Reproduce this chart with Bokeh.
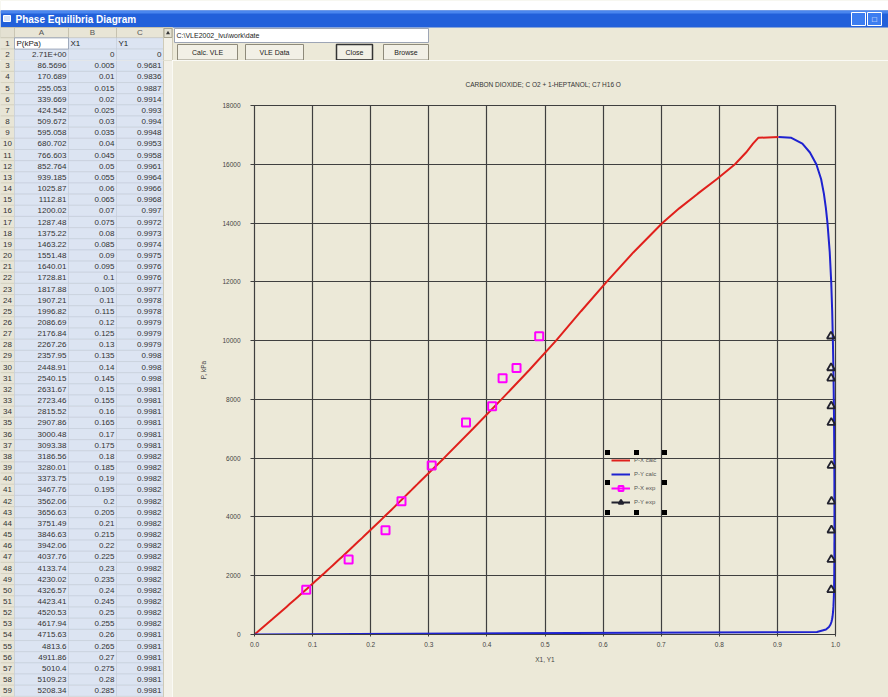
from bokeh.plotting import figure
from bokeh.models import Range1d, FixedTicker, Legend, LegendItem, BoxAnnotation, ColumnDataSource
from bokeh.layouts import row, column
from bokeh.core.properties import value
from bokeh.embed import file_html
from bokeh.resources import INLINE

# ---------------- data ----------------
# calculated VLE table (rows 2..59 of the sheet)
table_P = [2.71, 86.5696, 170.689, 255.053, 339.669, 424.542, 509.672, 595.058, 680.702, 766.603,
           852.764, 939.185, 1025.87, 1112.81, 1200.02, 1287.48, 1375.22, 1463.22, 1551.48, 1640.01,
           1728.81, 1817.88, 1907.21, 1996.82, 2086.69, 2176.84, 2267.26, 2357.95, 2448.91, 2540.15,
           2631.67, 2723.46, 2815.52, 2907.86, 3000.48, 3093.38, 3186.56, 3280.01, 3373.75, 3467.76,
           3562.06, 3656.63, 3751.49, 3846.63, 3942.06, 4037.76, 4133.74, 4230.02, 4326.57, 4423.41,
           4520.53, 4617.94, 4715.63, 4813.6, 4911.86, 5010.4, 5109.23, 5208.34]
table_X1 = [0, 0.005, 0.01, 0.015, 0.02, 0.025, 0.03, 0.035, 0.04, 0.045,
            0.05, 0.055, 0.06, 0.065, 0.07, 0.075, 0.08, 0.085, 0.09, 0.095,
            0.1, 0.105, 0.11, 0.115, 0.12, 0.125, 0.13, 0.135, 0.14, 0.145,
            0.15, 0.155, 0.16, 0.165, 0.17, 0.175, 0.18, 0.185, 0.19, 0.195,
            0.2, 0.205, 0.21, 0.215, 0.22, 0.225, 0.23, 0.235, 0.24, 0.245,
            0.25, 0.255, 0.26, 0.265, 0.27, 0.275, 0.28, 0.285]
table_Y1 = [0, 0.9681, 0.9836, 0.9887, 0.9914, 0.993, 0.994, 0.9948, 0.9953, 0.9958,
            0.9961, 0.9964, 0.9966, 0.9968, 0.997, 0.9972, 0.9973, 0.9974, 0.9975, 0.9976,
            0.9976, 0.9977, 0.9978, 0.9978, 0.9979, 0.9979, 0.9979, 0.998, 0.998, 0.998,
            0.9981, 0.9981, 0.9981, 0.9981, 0.9981, 0.9981, 0.9982, 0.9982, 0.9982, 0.9982,
            0.9982, 0.9982, 0.9982, 0.9982, 0.9982, 0.9982, 0.9982, 0.9982, 0.9982, 0.9982,
            0.9982, 0.9982, 0.9981, 0.9981, 0.9981, 0.9981, 0.9981, 0.9981]
table_header = ["P(kPa)", "X1", "Y1"]
col_letters = ["A", "B", "C"]

# remainder of the calculated curves
ext_P = [6000, 7000, 8000, 9000, 10000, 11000, 12000, 13000, 14000, 14500, 15000, 15500, 16000, 16400, 16700, 16900, 16930]
ext_X1 = [0.326, 0.376, 0.425, 0.473, 0.519, 0.562, 0.606, 0.652, 0.702, 0.731, 0.763, 0.796, 0.827, 0.846, 0.858, 0.867, 0.902]
ext_Y1 = [0.9979, 0.9976, 0.9971, 0.9964, 0.9955, 0.9943, 0.9926, 0.9901, 0.9862, 0.9835, 0.9800, 0.9752, 0.9670, 0.9560, 0.9430, 0.9240, 0.902]

# experimental points
exp_P = [1520, 2550, 3550, 4530, 5750, 7210, 7770, 8720, 9070, 10150]
exp_X1 = [0.089, 0.162, 0.2255, 0.253, 0.305, 0.364, 0.409, 0.427, 0.451, 0.490]
exp_Y1 = [0.9926, 0.9928, 0.9930, 0.9931, 0.9930, 0.9928, 0.9927, 0.9925, 0.9924, 0.9922]

x_ticks = [0.0, 0.1, 0.2, 0.3, 0.4, 0.5, 0.6, 0.7, 0.8, 0.9, 1.0]
x_tick_labels = ["0.0", "0.1", "0.2", "0.3", "0.4", "0.5", "0.6", "0.7", "0.8", "0.9", "1.0"]
y_ticks = [0, 2000, 4000, 6000, 8000, 10000, 12000, 14000, 16000, 18000]
y_tick_labels = ["0", "2000", "4000", "6000", "8000", "10000", "12000", "14000", "16000", "18000"]

chart_title = "CARBON DIOXIDE; C O2  +  1-HEPTANOL; C7 H16 O"
window_title = "Phase Equilibria Diagram"
path_text = "C:\\VLE2002_lvu\\work\\date"
buttons = ["Calc. VLE", "VLE Data", "Close", "Browse"]
legend_labels = ["P-X calc", "P-Y calc", "P-X exp", "P-Y exp"]

# ---------------- styles ----------------
BG = "#ECE9D8"
FONT = "Liberation Sans"
GRID = "#3f3f3f"
NAN = float("nan")
SPLIT = 60  # where the top strip ends and the table body / chart begin


def blank(width, height, xr, yr):
    f = figure(width=width, height=height, x_range=xr, y_range=yr, output_backend="svg",
               toolbar_location=None, x_axis_type=None, y_axis_type=None,
               min_border=0, background_fill_color=BG, border_fill_color=BG)
    f.outline_line_color = None
    f.grid.visible = False
    return f


def fmt(v):
    return "%g" % v


ROW_H = 11.16
ROW_TOP0 = 37.4
COL_EDGES = [14, 68, 116, 163]


def draw_rows(f, first, last):
    """draw sheet rows first..last (1-based, inclusive)"""
    rows = list(range(first, last + 1))
    n = len(rows)
    mid = [ROW_TOP0 + (r - 0.5) * ROW_H for r in rows]
    tops = [m - ROW_H / 2 for m in mid]
    bots = [m + ROW_H / 2 for m in mid]
    f.quad(left=[0] * n, right=[14] * n, top=tops, bottom=bots,
           fill_color="#E8E5D6", line_color="#CFCBB8", line_width=0.6)
    f.text(x=[7] * n, y=mid, text=[str(r) for r in rows], text_font=value(FONT),
           text_font_size="8px", text_color="#333333", text_align="center", text_baseline="middle")
    for i in range(3):
        f.quad(left=[COL_EDGES[i]] * n, right=[COL_EDGES[i + 1]] * n, top=tops, bottom=bots,
               fill_color="#DCE4F2", line_color="#C4CCDA", line_width=0.6)
    if first == 1:
        f.quad(left=[14], right=[68], top=[tops[0]], bottom=[bots[0]],
               fill_color="#FFFFFF", line_color="#8E9AB0", line_width=0.8)
        f.text(x=[16, 70, 118], y=[mid[0]] * 3, text=table_header, text_font=value(FONT),
               text_font_size="8px", text_color="#222222", text_baseline="middle")
    data_rows = [r for r in rows if r >= 2]
    idx = [r - 2 for r in data_rows]
    p_txt = [("2.71E+00" if k == 0 else fmt(table_P[k])) for k in idx]
    src = ColumnDataSource(dict(y=[ROW_TOP0 + (r - 0.5) * ROW_H for r in data_rows], a=p_txt,
                                b=[fmt(table_X1[k]) for k in idx], c=[fmt(table_Y1[k]) for k in idx]))
    for xx, col in zip([66, 114, 161], ["a", "b", "c"]):
        f.text(x=xx, y="y", text=col, source=src, text_font=value(FONT), text_font_size="8px",
               text_color="#333333", text_align="right", text_baseline="middle")


# ---------------- top strip: title bar + toolbar + table head ----------------
top = blank(888, SPLIT, Range1d(0, 888), Range1d(SPLIT, 0))
top.quad(left=[0], right=[888], top=[0], bottom=[10], fill_color="white", line_color=None)
top.quad(left=[0], right=[888], top=[10], bottom=[27], fill_color="#2260DA", line_color=None)
top.quad(left=[0], right=[888], top=[10], bottom=[13], fill_color="#4A86EE", line_color=None)
top.quad(left=[3], right=[10], top=[15], bottom=[21], fill_color="#D8E4F8", line_color="#FFFFFF")
top.text(x=[15], y=[18.5], text=[window_title], text_font=value(FONT), text_font_size="10px",
         text_font_style="bold", text_color="white", text_baseline="middle")
top.quad(left=[851, 867], right=[865, 881], top=[12, 12], bottom=[25, 25],
         fill_color="#3C7DF0", line_color="#FFFFFF", line_width=1)
top.text(x=[858, 874], y=[21, 19], text=["_", "\u25A1"], text_font=value(FONT), text_font_size="8px",
         text_color="white", text_align="center", text_baseline="middle")
# column header row
top.quad(left=[0], right=[163], top=[27], bottom=[ROW_TOP0], fill_color="#E4E1D2", line_color="#C8C4B0")
top.quad(left=COL_EDGES[:3], right=COL_EDGES[1:], top=[27] * 3, bottom=[ROW_TOP0] * 3,
         fill_color="#E8E5D6", line_color="#BDB9A6", line_width=0.7)
top.text(x=[(COL_EDGES[i] + COL_EDGES[i + 1]) / 2 for i in range(3)], y=[32.3] * 3, text=col_letters,
         text_font=value(FONT), text_font_size="8px", text_color="#555555",
         text_align="center", text_baseline="middle")
draw_rows(top, 1, 2)
top.quad(left=[163], right=[172], top=[27], bottom=[SPLIT], fill_color="#F3F1E8", line_color="#CFCBB8")
top.quad(left=[163.5], right=[171.5], top=[28], bottom=[37], fill_color="#E4E1D2", line_color="#A8A490")
top.scatter(x=[167.5], y=[32.5], marker="triangle", size=4, fill_color="#333333", line_color=None)
# toolbar
top.quad(left=[174], right=[428], top=[28], bottom=[42], fill_color="white", line_color="#9DA5B5")
top.text(x=[176], y=[35], text=[path_text], text_font=value(FONT), text_font_size="7px",
         text_color="#222222", text_baseline="middle")
btn_l = [177, 245, 336, 383]
btn_r = [237, 303, 372, 428]
top.quad(left=btn_l, right=btn_r, top=[44] * 4, bottom=[59.5] * 4, fill_color="#F2F0E6",
         line_color="#8E8A7A", line_width=1)
top.quad(left=[336], right=[372], top=[44], bottom=[59.5], fill_color=None, line_color="#333333", line_width=1.5)
top.text(x=[(a + b) / 2 for a, b in zip(btn_l, btn_r)], y=[52] * 4, text=buttons, text_font=value(FONT),
         text_font_size="7px", text_color="#222222", text_align="center", text_baseline="middle")

# ---------------- spreadsheet body ----------------
tbl = blank(172, 697 - SPLIT, Range1d(0, 172), Range1d(697, SPLIT))
draw_rows(tbl, 3, 1 + len(table_P))
tbl.quad(left=[163], right=[172], top=[SPLIT], bottom=[697], fill_color="#F3F1E8", line_color="#CFCBB8")

# ---------------- chart ----------------
p = figure(width=716, height=697 - SPLIT, x_range=Range1d(0, 1), y_range=Range1d(0, 18000),
           output_backend="svg", toolbar_location=None,
           min_border_left=82, min_border_right=53, min_border_top=105 - SPLIT, min_border_bottom=63,
           background_fill_color=BG, border_fill_color=BG)
p.title.text = chart_title
p.title.align = "center"
p.title.text_font = FONT
p.title.text_font_size = "6.5px"
p.title.text_font_style = "normal"
p.title.text_color = "#333333"
p.title.standoff = 35

p.xaxis.ticker = FixedTicker(ticks=x_ticks)
p.yaxis.ticker = FixedTicker(ticks=y_ticks)
p.xaxis.major_label_overrides = dict(zip(x_ticks, x_tick_labels))
p.yaxis.major_label_overrides = dict(zip(y_ticks, y_tick_labels))
p.xaxis.axis_label = "X1, Y1"
p.yaxis.axis_label = "P, kPa"
for ax in (p.xaxis, p.yaxis):
    ax.axis_line_color = GRID
    ax.major_tick_line_color = GRID
    ax.minor_tick_line_color = None
    ax.major_tick_in = 0
    ax.major_label_text_font = FONT
    ax.major_label_text_font_size = "6.5px"
    ax.major_label_text_color = "#444444"
    ax.axis_label_text_font = FONT
    ax.axis_label_text_font_size = "6.5px"
    ax.axis_label_text_font_style = "normal"
    ax.axis_label_text_color = "#444444"
p.yaxis.major_tick_out = 4
p.yaxis.major_label_standoff = 10
p.yaxis.axis_label_standoff = 12
p.xaxis.major_tick_out = 2
p.xaxis.major_label_standoff = 5
p.xaxis.axis_label_standoff = 6
p.grid.grid_line_color = GRID
p.grid.grid_line_width = 1.2
p.outline_line_color = GRID
p.outline_line_width = 1.2

calc_P = table_P + ext_P
calc_X1 = table_X1 + ext_X1
calc_Y1 = table_Y1 + ext_Y1
r_px = p.line(calc_X1, calc_P, line_color="#E0201C", line_width=2)
r_py = p.line(calc_Y1, calc_P, line_color="#1E22D0", line_width=2)
r_pye = p.scatter(exp_Y1, exp_P, marker="triangle", size=8, fill_color=None, line_color="#22222E", line_width=1.8)
r_pxe = p.scatter(exp_X1, exp_P, marker="square", size=8, fill_color=None, line_color="#FF00FF", line_width=2)

# legend-only line glyphs for the experimental entries (no drawable data)
l_pxe = p.line(x=[NAN], y=[NAN], line_color="#FF00FF", line_width=2)
l_pye = p.line(x=[NAN], y=[NAN], line_color="#22222E", line_width=2)

legend = Legend(items=[LegendItem(label=legend_labels[0], renderers=[r_px]),
                       LegendItem(label=legend_labels[1], renderers=[r_py]),
                       LegendItem(label=legend_labels[2], renderers=[l_pxe, r_pxe]),
                       LegendItem(label=legend_labels[3], renderers=[l_pye, r_pye])],
                location=(353, 122), padding=4, spacing=2, margin=0,
                glyph_width=19, glyph_height=12, label_height=12, label_standoff=4,
                label_text_font=FONT, label_text_font_size="6px", label_text_color="#555555",
                border_line_alpha=0, background_fill_alpha=0)
p.add_layout(legend)

hx = [353, 382, 410]
hy = [122, 152, 182]
for xx in hx:
    for yy in hy:
        if xx == 382 and yy == 152:
            continue
        p.add_layout(BoxAnnotation(left=xx - 2.5, right=xx + 2.5, bottom=yy - 2.5, top=yy + 2.5,
                                   left_units="screen", right_units="screen",
                                   bottom_units="screen", top_units="screen",
                                   fill_color="black", fill_alpha=1, line_color=None))

layout = column(top, row(tbl, column(p)))
open("out.html", "w").write(file_html(layout, INLINE))
